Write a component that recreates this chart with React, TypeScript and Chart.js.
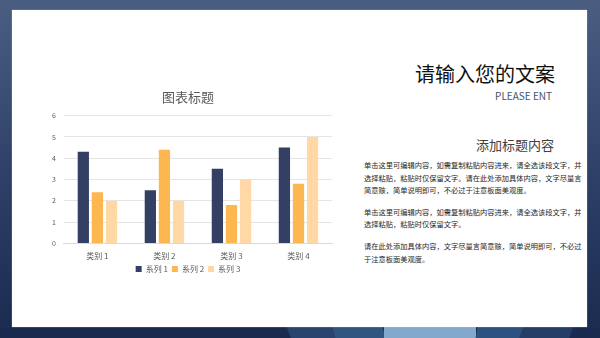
import React, { useEffect, useRef } from "react";
import { Chart, registerables } from "chart.js";

Chart.register(...registerables);

const categories = ["类别 1", "类别 2", "类别 3", "类别 4"];
const seriesNames = ["系列 1", "系列 2", "系列 3"];
const series1 = [4.3, 2.5, 3.5, 4.5];
const series2 = [2.4, 4.4, 1.8, 2.8];
const series3 = [2, 2, 3, 5];
const seriesColors = ["#334063", "#FDB751", "#FFD8A6"];
const chartTitle = "图表标题";

const headline = "请输入您的文案";
const subline = "PLEASE ENT";
const sectionTitle = "添加标题内容";
const para1 = [
  "单击这里可编辑内容，如需复制粘贴内容进来，请全选该段文字，并",
  "选择粘贴，粘贴时仅保留文字。请在此处添加具体内容，文字尽量言",
  "简意赅，简单说明即可，不必过于注意板面美观度。",
];
const para2 = [
  "单击这里可编辑内容，如需复制粘贴内容进来，请全选该段文字，并",
  "选择粘贴，粘贴时仅保留文字。",
];
const para3 = [
  "请在此处添加具体内容，文字尽量言简意赅，简单说明即可，不必过",
  "于注意板面美观度。",
];

const FONT = "'Noto Sans CJK SC', 'Noto Sans', sans-serif";

function BarChart() {
  const ref = useRef<HTMLCanvasElement>(null);
  useEffect(() => {
    if (!ref.current) return;
    const data = [series1, series2, series3];
    const chart = new Chart(ref.current, {
      type: "bar",
      data: {
        labels: categories,
        datasets: seriesNames.map((n, i) => ({
          label: n,
          data: data[i],
          backgroundColor: seriesColors[i],
          categoryPercentage: 0.63,
          barPercentage: 0.8,
        })),
      },
      options: {
        animation: false,
        responsive: false,
        maintainAspectRatio: false,
        layout: { padding: { left: 2, right: 10, top: 0, bottom: 3 } },
        plugins: {
          title: {
            display: true,
            text: chartTitle,
            color: "#595959",
            font: { family: FONT, size: 13, weight: "normal" },
            padding: { top: 7, bottom: 11 },
          },
          legend: {
            position: "bottom",
            labels: {
              boxWidth: 6,
              boxHeight: 6,
              padding: 4,
              color: "#595959",
              font: { family: FONT, size: 8 },
            },
          },
          tooltip: { enabled: false },
        },
        scales: {
          x: {
            grid: { display: false },
            border: { color: "#D9D9D9" },
            ticks: { color: "#595959", font: { family: FONT, size: 8 }, padding: 0 },
          },
          y: {
            min: 0,
            max: 6,
            ticks: { stepSize: 1, color: "#595959", font: { family: FONT, size: 7 }, padding: 8 },
            grid: { color: "#E4E4E4", drawTicks: false },
            border: { display: false },
          },
        },
      },
    });
    return () => chart.destroy();
  }, []);
  return <canvas ref={ref} width={300} height={204} style={{ position: "absolute", left: 42, top: 82, width: 300, height: 204 }} />;
}

export default function App() {
  const pStyle: React.CSSProperties = { margin: 0, fontSize: 7.25, lineHeight: "12.6px", color: "#262626", whiteSpace: "nowrap" };
  return (
    <div
      style={{
        position: "fixed",
        left: 0,
        top: 0,
        width: 600,
        height: 338,
        overflow: "hidden",
        fontFamily: FONT,
        background: "linear-gradient(180deg, #4a5e82 0%, #2f4168 50%, #1a2a4f 100%)",
      }}
    >
      <div style={{ position: "absolute", left: 290, top: 326, width: 60, height: 20, background: "#2a4470", transform: "skewX(20deg)" }} />
      <div style={{ position: "absolute", left: 335, top: 326, width: 50, height: 20, background: "#2f5580", transform: "skewX(15deg)" }} />
      <div style={{ position: "absolute", left: 384, top: 326, width: 92, height: 20, background: "#82a9cc" }} />
      <div style={{ position: "absolute", left: 476, top: 326, width: 48, height: 20, background: "#2e5280", transform: "skewX(-10deg)" }} />
      <div style={{ position: "absolute", left: 520, top: 326, width: 50, height: 20, background: "#243e68", transform: "skewX(-20deg)" }} />
      <div
        style={{
          position: "absolute",
          left: 12,
          top: 10,
          width: 575,
          height: 317,
          background: "#ffffff",
          boxShadow: "0 0 1px rgba(200,210,230,0.9)",
        }}
      />
      <BarChart />
      <div style={{ position: "absolute", right: 45, top: 60, fontSize: 20, color: "#111", whiteSpace: "nowrap", lineHeight: "28px" }}>{headline}</div>
      <div style={{ position: "absolute", right: 48, top: 89, fontSize: 10, color: "#44546A", whiteSpace: "nowrap", lineHeight: "14px" }}>{subline}</div>
      <div style={{ position: "absolute", right: 46, top: 136, fontSize: 13, color: "#404040", whiteSpace: "nowrap", lineHeight: "18px" }}>{sectionTitle}</div>
      <div style={{ position: "absolute", left: 364, top: 159 }}>
        {para1.map((l, i) => (
          <p key={"a" + i} style={pStyle}>{l}</p>
        ))}
        <div style={{ height: 9 }} />
        {para2.map((l, i) => (
          <p key={"b" + i} style={pStyle}>{l}</p>
        ))}
        <div style={{ height: 9 }} />
        {para3.map((l, i) => (
          <p key={"c" + i} style={pStyle}>{l}</p>
        ))}
      </div>
    </div>
  );
}
